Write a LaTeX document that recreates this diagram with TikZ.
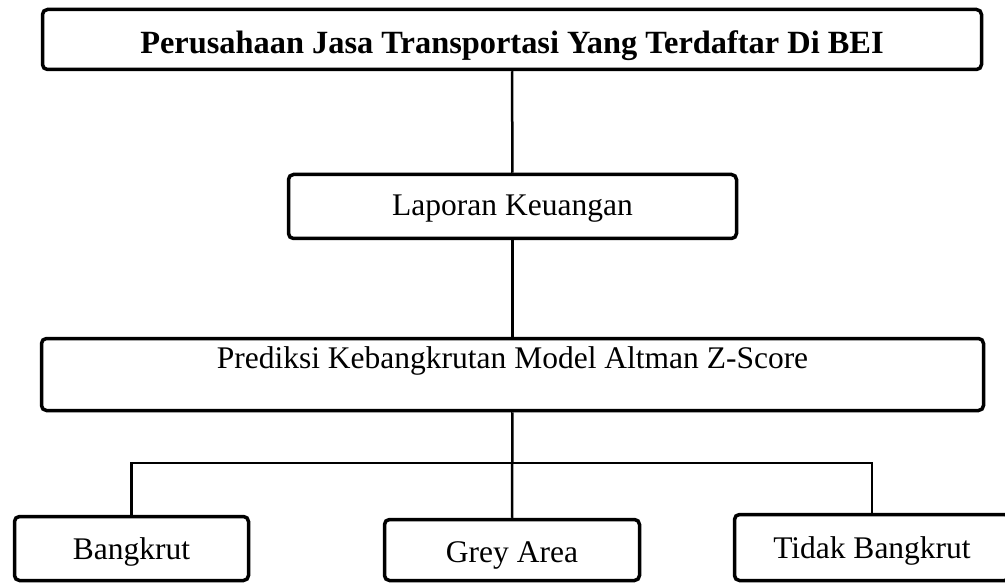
\documentclass[tikz,border=0pt]{standalone}
\usepackage{fontspec}
\setmainfont{Liberation Serif}
\usepackage{tikz}

\begin{document}
\begin{tikzpicture}[x=1pt,y=-1pt,
  box/.style={draw, rounded corners=5, line width=3.5pt, inner sep=0pt, font=\fontsize{31.5}{38}\selectfont}]
\clip (0,0) rectangle (1005,583);

\node[box, minimum width=939, minimum height=60, text height=31, text depth=2, font=\fontsize{32.4}{38}\selectfont\bfseries] (pt) at (512,39.5) {Perusahaan Jasa Transportasi Yang Terdaftar Di BEI};
\node[box, minimum width=448, minimum height=64, text height=25, text depth=8] (lap) at (512.5,206.5) {Laporan Keuangan};
\node[box, minimum width=942, minimum height=72, text height=25, text depth=38] (pred) at (512.5,374.5) {Prediksi Kebangkrutan Model Altman Z-Score};

\node[box, minimum width=234, minimum height=64, text height=28, text depth=6] (bang) at (131.5,548.5) {Bangkrut};
\node[box, minimum width=255, minimum height=61, text height=29, text depth=4] (grey) at (512,550) {Grey Area};
\node[box, minimum width=275, minimum height=66, text height=28, text depth=6] (tidak) at (872,547.5) {Tidak Bangkrut};

\coordinate (split) at (512,463);

\draw[line width=2.5pt] (pt) -- (lap);
\draw[line width=2.5pt] (lap) -- (pred);
\draw[line width=2.5pt] (pred) -- (grey);
\draw[line width=2.5pt] (bang) |- (split) -| (tidak);
\end{tikzpicture}
\end{document}
